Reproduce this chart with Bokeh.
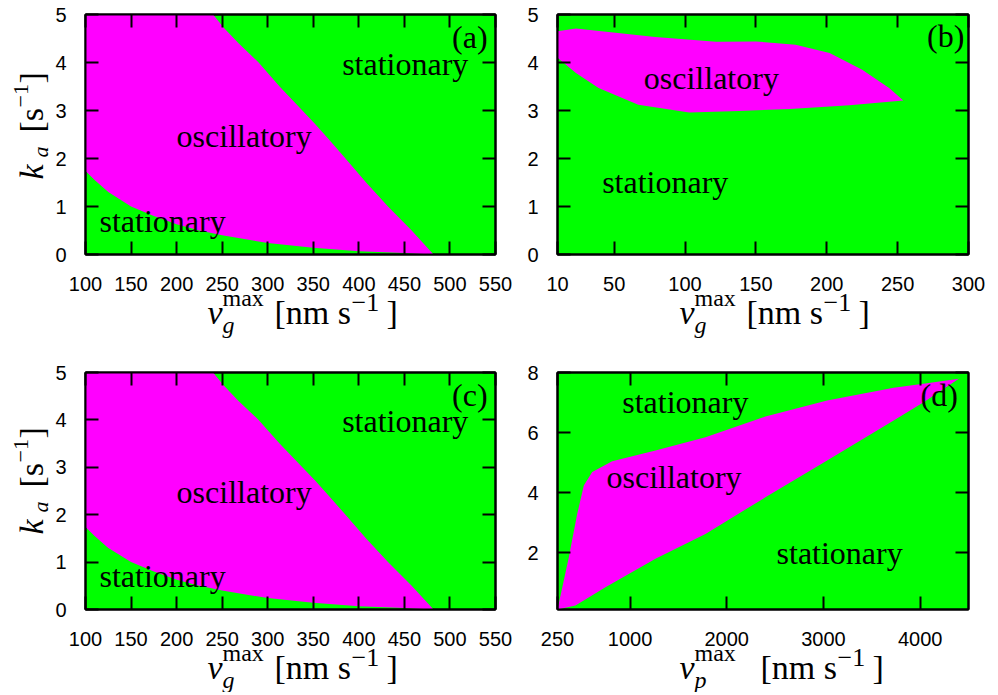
import math
from bokeh.plotting import figure
from bokeh.models import LinearAxis, FixedTicker, Range1d, CustomJSTickFormatter
from bokeh.layouts import column, row
from bokeh.embed import file_html
from bokeh.resources import INLINE
from bokeh.core.properties import value

# ---------------- data ----------------
# panel (a) and (c): oscillatory region bounded by two curves, v_g^max vs k_a
a_upper_v = [240, 252, 268, 290, 313, 338, 352, 366, 383, 408, 432, 458, 482]
a_upper_k = [5.0, 4.72, 4.4, 4.0, 3.5, 3.0, 2.72, 2.42, 2.05, 1.5, 1.0, 0.5, 0.0]
a_lower_v = [100, 110, 125, 150, 175, 200, 225, 250, 300, 350, 400, 450, 482]
a_lower_k = [1.74, 1.55, 1.3, 1.0, 0.8, 0.63, 0.5, 0.40, 0.24, 0.14, 0.07, 0.03, 0.0]

c_upper_v = list(a_upper_v)
c_upper_k = list(a_upper_k)
c_lower_v = list(a_lower_v)
c_lower_k = list(a_lower_k)

# panel (b)
b_upper_v = [10, 23, 51, 79, 122, 150, 178, 202, 225, 244, 254]
b_upper_k = [4.65, 4.71, 4.62, 4.53, 4.43, 4.44, 4.37, 4.2, 3.85, 3.47, 3.21]
b_lower_v = [10, 23, 39, 67, 103, 138, 174, 216, 254]
b_lower_k = [4.10, 3.78, 3.47, 3.12, 2.96, 2.99, 3.03, 3.11, 3.21]

# panel (d): v_p^max vs k_a
d_upper_v = [250, 367, 454, 522, 609, 815, 1263, 1780, 2400, 3038, 3726, 4071, 4400]
d_upper_k = [0.1, 1.84, 3.29, 4.23, 4.68, 5.04, 5.4, 5.84, 6.53, 7.07, 7.49, 7.64, 7.79]
d_lower_v = [250, 436, 746, 1263, 1780, 2400, 3038, 3726, 4036, 4400]
d_lower_k = [0.1, 0.23, 0.84, 1.79, 2.62, 3.84, 5.07, 6.4, 7.01, 7.79]

# ticks
ab_xticks = [100, 150, 200, 250, 300, 350, 400, 450, 500, 550]
b_xticks = [10, 50, 100, 150, 200, 250, 300]
d_xticks = [250, 1000, 2000, 3000, 4000]
k_ticks_5 = [0, 1, 2, 3, 4, 5]
k_ticks_8 = [2, 4, 6, 8]

# region names
region_labels_a = ["stationary", "oscillatory", "stationary"]
region_labels_b = ["oscillatory", "stationary"]
region_labels_d = ["stationary", "oscillatory", "stationary"]

GREEN = "#00ff00"
MAGENTA = "#ff00ff"
SERIF = "Liberation Serif"
SANS = "Liberation Sans"
BASE_FIX = 0.28  # em shift so that the glyph baseline lands where intended


def style_axis(ax, ticks, show_labels, standoff):
    ax.ticker = FixedTicker(ticks=ticks)
    ax.axis_line_color = "black"
    ax.axis_line_width = 2
    ax.major_tick_in = 13
    ax.major_tick_out = 0
    ax.major_tick_line_color = "black"
    ax.major_tick_line_width = 2
    ax.minor_tick_line_color = None
    ax.axis_label = None
    if show_labels:
        ax.major_label_text_font = SANS
        ax.major_label_text_font_size = "20px"
        ax.major_label_text_color = "black"
        ax.major_label_standoff = standoff
    else:
        ax.formatter = CustomJSTickFormatter(code="return ''")
        ax.major_label_text_font_size = "0px"
        ax.major_label_standoff = 0


def make_panel(width, height, bl, br, bt, bb, xr, yr, xticks, yticks):
    p = figure(width=width, height=height, x_range=Range1d(*xr), y_range=Range1d(*yr),
               output_backend="svg", toolbar_location=None, tools="",
               min_border_left=bl, min_border_right=br, min_border_top=bt, min_border_bottom=bb)
    p.background_fill_color = GREEN
    p.border_fill_color = "white"
    p.grid.visible = False
    p.outline_line_color = "black"
    p.outline_line_width = 2
    style_axis(p.xaxis[0], xticks, True, 22)
    style_axis(p.yaxis[0], yticks, True, 19)
    top = LinearAxis()
    style_axis(top, xticks, False, 0)
    right = LinearAxis()
    style_axis(right, yticks, False, 0)
    p.add_layout(top, "above")
    p.add_layout(right, "right")
    return p


def add_region(p, uv, uk, lv, lk, corner=None):
    xs = ([corner[0]] if corner else []) + list(uv) + list(reversed(lv))
    ys = ([corner[1]] if corner else []) + list(uk) + list(reversed(lk))
    p.patch(xs, ys, fill_color=MAGENTA, line_color=None)


def add_texts(p, names, xs, ys, tag, tag_x, tag_y):
    fix = -BASE_FIX * 32
    p.text(x=xs, y=ys, text=names, text_font=value(SERIF), text_font_size="32px",
           text_color="black", text_align="left", text_baseline="alphabetic", y_offset=fix)
    p.text(x=[tag_x], y=[tag_y], text=[tag], text_font=value(SERIF), text_font_size="32px",
           text_color="black", text_align="left", text_baseline="alphabetic", y_offset=fix)


def add_math(p, xr, yr, pieces, angle=0.0):
    # pieces are placed in pixels relative to the frame's bottom-left corner
    for txt, dx, dy, size, italic in pieces:
        sx = dx - BASE_FIX * size * math.sin(angle)
        sy = -dy - BASE_FIX * size * math.cos(angle)
        p.text(x=[xr[0]], y=[yr[0]], text=[txt], x_offset=sx, y_offset=sy, angle=angle,
               text_font=value(SERIF), text_font_size=f"{size}px",
               text_font_style="italic" if italic else "normal",
               text_color="black", text_align="left", text_baseline="alphabetic",
               level="overlay")


def xlab(sub, shift):
    return [("v", 122, -68, 34, True), ("max", 137, -50, 24, False), (sub, 137, -77, 24, True),
            ("[nm s", 189 + shift, -68, 34, False), ("\u22121", 266 + shift, -55, 26, False),
            ("]", 301 + shift, -68, 34, False)]


YLAB = [("k", -44, 75, 34, True), ("a", -39, 97, 22, True), ("[s", -44, 122, 34, False),
        ("\u22121", -58, 147, 22, False), ("]", -44, 171, 34, False)]
ROT = math.pi / 2

# ---------------- panels ----------------
AB_X = (100, 550)
B_X = (10, 300)
D_X = (250, 4500)
K5 = (0, 5)
K8 = (0.1, 8)

pa = make_panel(520, 340, 85, 25, 14, 86, AB_X, K5, ab_xticks, k_ticks_5)
add_region(pa, a_upper_v, a_upper_k, a_lower_v, a_lower_k, corner=(100, 5))
add_texts(pa, region_labels_a, [381.7, 200, 115.4], [3.785, 2.29, 0.52], "(a)", 502.3, 4.34)
add_math(pa, AB_X, K5, xlab("g", 0))
add_math(pa, AB_X, K5, YLAB, angle=ROT)

pb = make_panel(470, 340, 37, 22, 14, 86, B_X, K5, b_xticks, k_ticks_5)
add_region(pb, b_upper_v, b_upper_k, b_lower_v, b_lower_k)
add_texts(pb, region_labels_b, [70.9, 41.5], [3.49, 1.32], "(b)", 270.8, 4.375)
add_math(pb, B_X, K5, xlab("g", 0))

pc = make_panel(520, 352, 85, 25, 32, 83, AB_X, K5, ab_xticks, k_ticks_5)
add_region(pc, c_upper_v, c_upper_k, c_lower_v, c_lower_k, corner=(100, 5))
add_texts(pc, region_labels_a, [381.7, 200, 115.4], [3.79, 2.30, 0.51], "(c)", 502.3, 4.34)
add_math(pc, AB_X, K5, xlab("g", 0))
add_math(pc, AB_X, K5, YLAB, angle=ROT)

pd = make_panel(470, 352, 37, 22, 32, 83, D_X, K8, d_xticks, k_ticks_8)
add_region(pd, d_upper_v, d_upper_k, d_lower_v, d_lower_k)
add_texts(pd, region_labels_d, [919, 757, 2515], [6.71, 4.23, 1.68], "(d)", 4004, 6.96)
add_math(pd, D_X, K8, xlab("p", 14))

layout = column(row(pa, pb), row(pc, pd))
open("out.html", "w").write(file_html(layout, INLINE))
